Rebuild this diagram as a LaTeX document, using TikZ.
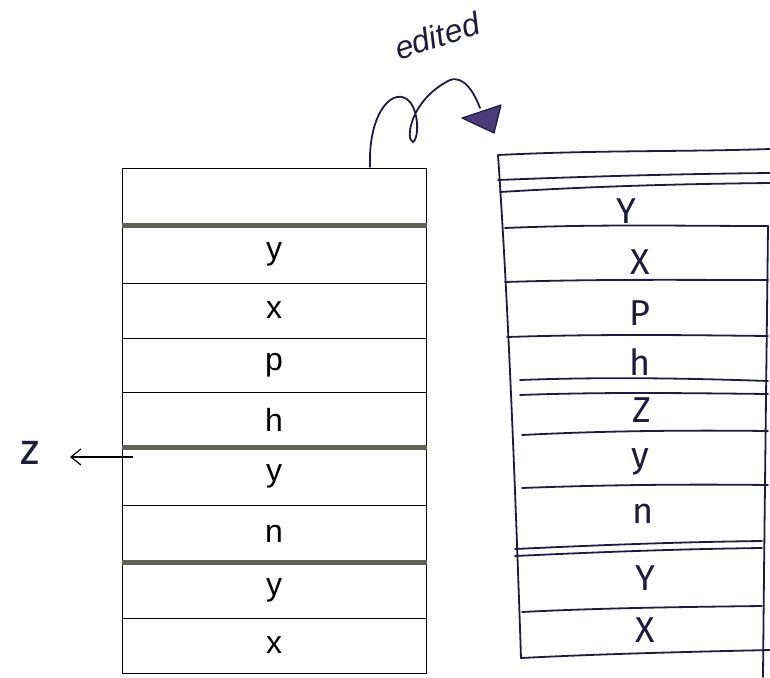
\documentclass[tikz,border=0pt]{standalone}
\usepackage{fontspec}
\setmainfont{Liberation Sans}
\newfontfamily\handfont{Fira Sans}
\usetikzlibrary{arrows.meta}
\definecolor{ink}{HTML}{1E1C3C}
\definecolor{thickgray}{HTML}{5E6257}
\definecolor{arrowfill}{HTML}{4A3C7A}
\tikzset{
  cellL/.style={draw=black, line width=1pt, minimum width=304pt, inner sep=0pt, font=\fontsize{32}{34}\selectfont},
  thickline/.style={draw=thickgray, line width=4.5pt},
  cellR/.style={inner sep=0pt, text=ink, font=\handfont\fontsize{36}{40}\selectfont},
  handline/.style={draw=ink, line width=1.8pt, line cap=round},
}
\begin{document}
\begin{tikzpicture}[x=1pt,y=-1pt]
\useasboundingbox (0,0) rectangle (770,677);
% ---------- left stack ----------
\node[cellL, minimum height=57pt] (L0) at (274,196.5) {};
\node[cellL, minimum height=58pt] (L1) at (274,254) {y};
\node[cellL, minimum height=55pt] (L2) at (274,310.5) {x};
\node[cellL, minimum height=54pt] (L3) at (274,365) {p};
\node[cellL, minimum height=55pt] (L4) at (274,419.5) {h};
\node[cellL, minimum height=58pt] (L5) at (274,476) {y};
\node[cellL, minimum height=57pt] (L6) at (274,533.5) {n};
\node[cellL, minimum height=56pt] (L7) at (274,590) {y};
\node[cellL, minimum height=55pt] (L8) at (274,645.5) {x};
\draw[thickline] (L0.south west) -- (L0.south east);
\draw[thickline] (L4.south west) -- (L4.south east);
\draw[thickline] (L6.south west) -- (L6.south east);
% ---------- z arrow ----------
\node[inner sep=0pt, text=ink, font=\handfont\fontsize{44}{48}\selectfont] (z) at (30,453) {z};
\coordinate (zstart) at (133,457);
\draw[black, line width=1.2pt, -{Straight Barb[length=10pt,width=16pt,line width=1.2pt]}] (zstart) -- (70,457);
% ---------- right stack ----------
\draw[handline] (498,155) .. controls (600,150) and (680,152) .. (770,149);
\draw[handline] (498,180) .. controls (600,176) and (680,174) .. (770,173);
\draw[handline] (500,192) .. controls (600,186) and (680,184) .. (770,183);
\draw[handline] (505,228) .. controls (600,224) and (680,226) .. (768,226);
\draw[handline] (505,282) .. controls (600,279) and (680,280) .. (768,280);
\draw[handline] (507,337) .. controls (600,334) and (680,335) .. (768,336);
\draw[handline] (520,380) .. controls (600,377) and (680,378) .. (768,381);
\draw[handline] (520,395) .. controls (600,392) and (680,393) .. (768,394);
\draw[handline] (522,435) .. controls (600,431) and (680,430) .. (768,431);
\draw[handline] (522,488) .. controls (600,485) and (680,484) .. (768,485);
\draw[handline] (515,549) .. controls (600,545) and (680,542) .. (762,541);
\draw[handline] (515,556) .. controls (600,552) and (680,549) .. (762,548);
\draw[handline] (522,612) .. controls (600,608) and (680,607) .. (762,606);
\draw[handline] (521,658) .. controls (600,654) and (680,652) .. (770,650);
\draw[handline] (498,155) .. controls (508,300) and (515,480) .. (521,658);
\draw[handline] (768,226) .. controls (766,400) and (764,560) .. (763,677);
\node[cellR] (R1) at (626,211) {Y};
\node[cellR] (R2) at (640,262) {X};
\node[cellR] (R3) at (640,313) {P};
\node[cellR] (R4) at (640,362) {h};
\node[cellR] (R5) at (642,410) {Z};
\node[cellR] (R6) at (640,462) {y};
\node[cellR] (R7) at (643,514) {n};
\node[cellR] (R8) at (645,578) {Y};
\node[cellR] (R9) at (645,630) {X};
% ---------- edited arrow ----------
\node[inner sep=0pt, text=ink, rotate=18, font=\itshape\fontsize{32}{36}\selectfont] (ed) at (437,36) {edited};
\coordinate (cs) at (370,167);
\coordinate (ce) at (480,108);
\draw[ink, line width=1.8pt, line cap=round] (cs)
  .. controls (368,110) and (395,85) .. (410,102)
  .. controls (420,115) and (418,140) .. (413,142)
  .. controls (405,140) and (410,100) .. (450,80)
  .. controls (465,75) and (475,95) .. (ce);
\draw[ink, fill=arrowfill, line width=1.2pt, line join=round] (462,118) -- (501,105) -- (494,133) -- cycle;
\end{tikzpicture}
\end{document}
